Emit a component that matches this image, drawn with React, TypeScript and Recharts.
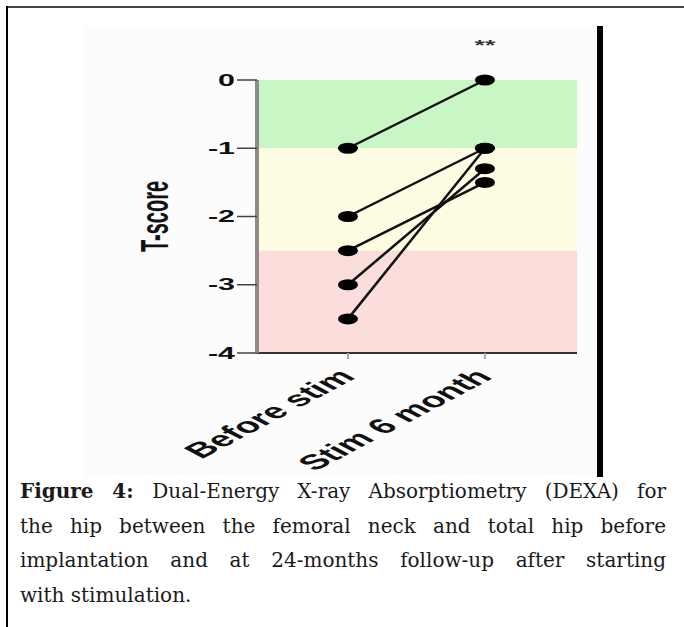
import React from 'react';
import { LineChart, Line, XAxis, YAxis, ReferenceArea, ReferenceDot } from 'recharts';

// values
const categories = ['Before stim', 'Stim 6 month'];
const beforeStim = [-1, -2, -2.5, -3, -3.5];
const stim6Month = [0, -1, -1.5, -1.3, -1];
const yTicks = [0, -1, -2, -3, -4];
const bandEdges = [0, -1, -2.5, -4];
const bandColors = ['#c8f6c4', '#fdfbe1', '#fbdddc'];
const significance = '**';
const yLabel = 'T-score';

const captionLines = [
  'Dual-Energy X-ray Absorptiometry (DEXA) for',
  'the hip between the femoral neck and total hip before',
  'implantation and at 24-months follow-up after starting',
  'with stimulation.',
];

const subjectKeys = beforeStim.map((_, i) => `s${i}`);
const data = categories.map((cat, ci) => {
  const row: Record<string, string | number> = { cat, idx: ci };
  subjectKeys.forEach((k, j) => {
    row[k] = ci === 0 ? beforeStim[j] : stim6Month[j];
  });
  return row;
});

// the source image is stretched sideways, so text gets scaled on x
const SX = 1.9;
const sans = "Arial, 'Liberation Sans', sans-serif";

function YTick({ x, y, payload }: any) {
  return (
    <g transform={`translate(${x},${y}) scale(${SX},1)`}>
      <text textAnchor="end" dominantBaseline="central" fontFamily={sans} fontWeight="bold" fontSize={16} fill="#111">
        {payload.value}
      </text>
    </g>
  );
}

function XTick({ x, y, payload }: any) {
  return (
    <g transform={`translate(${x - 12},${y + 6}) scale(${SX},1) rotate(-45)`}>
      <text textAnchor="end" dominantBaseline="hanging" fontFamily={sans} fontWeight="bold" fontSize={21} fill="#111">
        {categories[payload.value]}
      </text>
    </g>
  );
}

function AxisTitle({ viewBox }: any) {
  const cx = viewBox.x + 70;
  const cy = viewBox.y + viewBox.height / 2;
  return (
    <g transform={`translate(${cx},${cy}) scale(${SX},1) rotate(-90)`}>
      <text textAnchor="middle" dominantBaseline="central" fontFamily={sans} fontWeight="bold" fontSize={20} fill="#111">
        {yLabel}
      </text>
    </g>
  );
}

function Dot(props: any) {
  const { cx, cy, index, dataKey } = props;
  return <ellipse key={`${dataKey}-${index}`} cx={cx} cy={cy} rx={10} ry={5.5} fill="#000" />;
}

function Stars(props: any) {
  return (
    <g transform={`translate(${props.cx},${props.cy - 30}) scale(${SX},1)`}>
      <text textAnchor="middle" fontFamily={sans} fontWeight="bold" fontSize={14} fill="#333">
        {significance}
      </text>
    </g>
  );
}

export default function App() {
  return (
    <div style={{ position: 'absolute', left: 0, top: 0, width: 684, height: 627, background: '#fff', overflow: 'hidden' }}>
      {/* frame */}
      <div style={{ position: 'absolute', left: 6, top: 6, width: 678, height: 2, background: '#444' }} />
      <div style={{ position: 'absolute', left: 6, top: 6, width: 2, height: 621, background: '#000' }} />

      <div style={{ position: 'absolute', left: 85, top: 26, width: 512, height: 451, background: '#fcfcfc' }}>
        <LineChart width={512} height={451} data={data} margin={{ top: 54, right: 20, left: 0, bottom: 0 }}>
          {bandColors.map((c, i) => (
            <ReferenceArea key={c} y1={bandEdges[i]} y2={bandEdges[i + 1]} fill={c} fillOpacity={1} stroke="none" />
          ))}
          <XAxis
            dataKey="idx"
            type="number"
            domain={[-0.664, 1.672]}
            ticks={[0, 1]}
            allowDataOverflow
            height={124}
            interval={0}
            axisLine={{ stroke: '#333', strokeWidth: 2 }}
            tickLine={{ stroke: '#aaa', strokeWidth: 2 }}
            tickSize={6}
            tickMargin={2}
            tick={<XTick />}
          />
          <YAxis
            width={172}
            domain={[-4, 0]}
            ticks={yTicks}
            interval={0}
            axisLine={{ stroke: '#8f8a88', strokeWidth: 4 }}
            tickLine={{ stroke: '#444', strokeWidth: 1.5 }}
            tickSize={20}
            tickMargin={2}
            tick={<YTick />}
            label={<AxisTitle />}
          />
          {subjectKeys.map((k) => (
            <Line
              key={k}
              dataKey={k}
              stroke="#111"
              strokeWidth={2.5}
              dot={<Dot />}
              activeDot={false}
              isAnimationActive={false}
            />
          ))}
          <ReferenceDot x={1} y={0} r={0} shape={<Stars />} />
        </LineChart>
      </div>
      <div style={{ position: 'absolute', left: 597, top: 26, width: 6, height: 451, background: '#000' }} />

      <div
        style={{
          position: 'absolute',
          left: 20,
          top: 474,
          width: 646,
          fontFamily: "'DejaVu Serif', serif",
          fontSize: 20,
          lineHeight: '34.5px',
          color: '#1a1a1a',
        }}
      >
        {captionLines.map((line, i) => (
          <div
            key={i}
            style={{ whiteSpace: 'nowrap', textAlign: 'justify', textAlignLast: i < captionLines.length - 1 ? 'justify' : 'left' }}
          >
            {i === 0 && <b>Figure 4: </b>}
            {line}
          </div>
        ))}
      </div>
    </div>
  );
}
